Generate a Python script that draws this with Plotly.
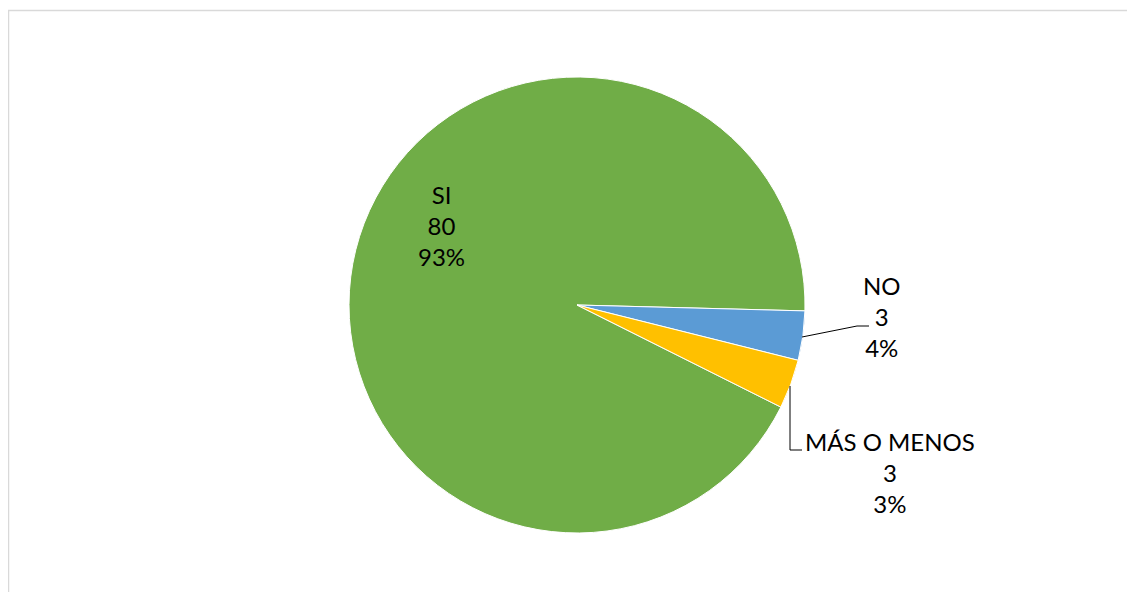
import plotly.graph_objects as go

# Data
categories = ["SI", "NO", "MÁS O MENOS"]
counts = [80, 3, 3]
percent_labels = ["93%", "4%", "3%"]
colors = ["#70AD47", "#5B9BD5", "#FFC000"]

W, H = 1135, 592
OFF = 8  # page body margin offset

def px(x):
    return (x - OFF) / W

def py(y):
    return 1 - (y - OFF) / H

fig = go.Figure()
fig.add_trace(go.Pie(
    labels=categories,
    values=counts,
    sort=False,
    direction="clockwise",
    rotation=116.6,
    marker=dict(colors=colors, line=dict(color="white", width=1)),
    textinfo="none",
    hoverinfo="label+value+percent",
    showlegend=False,
    domain=dict(x=[px(349), px(805)], y=[py(533), py(77)]),
))

font = dict(family="Lato, 'Open Sans', sans-serif", size=24, color="#000000")

label_pos = [(441, 226), (882, 316), (890, 472)]
for cat, cnt, pct, (lx, ly) in zip(categories, counts, percent_labels, label_pos):
    fig.add_annotation(
        x=px(lx), y=py(ly), xref="paper", yref="paper",
        text=f"{cat}<br>{cnt}<br>{pct}",
        showarrow=False, font=font, align="center",
        xanchor="center", yanchor="middle",
    )

# Leader lines
fig.add_shape(type="path", xref="paper", yref="paper",
              path=f"M {px(802)},{py(337)} L {px(857)},{py(326)} L {px(869)},{py(326)}",
              line=dict(color="black", width=1))
fig.add_shape(type="path", xref="paper", yref="paper",
              path=f"M {px(790)},{py(386)} L {px(790)},{py(450)} L {px(802)},{py(450)}",
              line=dict(color="black", width=1))

# Chart border
fig.add_shape(type="rect", xref="paper", yref="paper",
              x0=px(8.5), y0=py(10.5), x1=px(1180), y1=py(640),
              line=dict(color="#D9D9D9", width=1.5), fillcolor="rgba(0,0,0,0)")

fig.update_layout(
    width=W, height=H,
    margin=dict(l=0, r=0, t=0, b=0),
    paper_bgcolor="white",
    plot_bgcolor="white",
)

fig.write_html("out.html")
